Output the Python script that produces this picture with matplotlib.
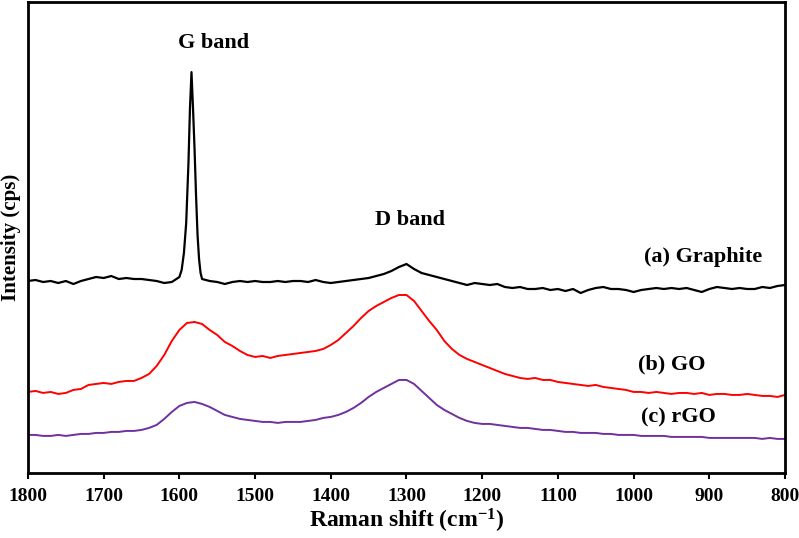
import matplotlib
matplotlib.use("Agg")
import matplotlib.pyplot as plt

# Raman shift (cm-1)
shift_graphite = [
    1800, 1790, 1780, 1770, 1760, 1750, 1740, 1730, 1720, 1710,
    1700, 1690, 1680, 1670, 1660, 1650, 1640, 1630, 1620, 1610,
    1600, 1597, 1594, 1591, 1588, 1586, 1584, 1582, 1580, 1578,
    1576, 1574, 1572, 1570,
    1560, 1550, 1540, 1530, 1520, 1510, 1500, 1490, 1480, 1470,
    1460, 1450, 1440, 1430, 1420, 1410, 1400, 1390, 1380, 1370,
    1360, 1350, 1340, 1330, 1320, 1310, 1300, 1290, 1280, 1270,
    1260, 1250, 1240, 1230, 1220, 1210, 1200, 1190, 1180, 1170,
    1160, 1150, 1140, 1130, 1120, 1110, 1100, 1090, 1080, 1070,
    1060, 1050, 1040, 1030, 1020, 1010, 1000, 990, 980, 970,
    960, 950, 940, 930, 920, 910, 900, 890, 880, 870,
    860, 850, 840, 830, 820, 810, 800,
]
int_graphite = [
    192, 193, 191, 192, 190, 192, 189, 192, 194, 196,
    195, 197, 194, 195, 194, 194, 193, 192, 190, 191,
    196, 203, 220, 250, 310, 365, 401, 365, 325, 278,
    238, 214, 200, 194,
    192, 191, 189, 191, 192, 191, 192, 191, 191, 192,
    191, 192, 192, 191, 193, 191, 190, 191, 192, 193,
    194, 195, 197, 199, 202, 206, 209, 204, 200, 198,
    196, 194, 192, 190, 188, 190, 189, 188, 189, 186,
    185, 186, 184, 184, 185, 183, 184, 182, 184, 180,
    183, 185, 186, 184, 184, 183, 181, 183, 184, 185,
    184, 185, 184, 185, 183, 181, 184, 186, 185, 184,
    185, 184, 184, 186, 185, 187, 188,
]

shift = list(range(1800, 799, -10))
int_go = [
    81, 82, 80, 81, 79, 80, 83, 84, 88, 89,
    90, 89, 91, 92, 92, 95, 99, 107, 118, 132,
    143, 150, 151, 149, 143, 138, 131, 127, 122, 118,
    116, 117, 115, 117, 118, 119, 120, 121, 122, 124,
    128, 133, 140, 147, 155, 162, 167, 171, 175, 178,
    178, 172, 162, 152, 143, 132, 124, 118, 114, 111,
    108, 105, 102, 99, 97, 95, 94, 95, 93, 93,
    91, 90, 89, 88, 87, 88, 86, 85, 84, 83,
    81, 81, 80, 81, 80, 79, 80, 80, 79, 80,
    78, 79, 79, 78, 78, 79, 78, 77, 77, 76,
    78,
]
int_rgo = [
    38, 38, 37, 37, 38, 37, 38, 39, 39, 40,
    40, 41, 41, 42, 42, 43, 45, 48, 54, 61,
    67, 70, 71, 69, 66, 62, 58, 56, 54, 53,
    52, 51, 51, 50, 51, 51, 51, 52, 53, 55,
    56, 58, 61, 65, 70, 76, 81, 85, 89, 93,
    93, 89, 82, 75, 68, 63, 59, 55, 52, 50,
    49, 49, 48, 47, 46, 45, 45, 44, 43, 43,
    42, 41, 41, 40, 40, 40, 39, 39, 38, 38,
    38, 37, 37, 37, 37, 36, 36, 36, 36, 36,
    35, 35, 35, 35, 35, 35, 35, 34, 35, 34,
    34,
]

plt.rcParams["font.family"] = "Liberation Serif"
plt.rcParams["font.weight"] = "bold"
plt.rcParams["mathtext.fontset"] = "custom"
plt.rcParams["mathtext.rm"] = "Liberation Serif:bold"
plt.rcParams["mathtext.default"] = "rm"

fig = plt.figure(figsize=(7.99, 5.38), dpi=100)
ax = fig.add_axes([0.035, 0.121, 0.9475, 0.875])

ax.plot(shift_graphite, int_graphite, color="black", linewidth=1.6)
ax.plot(shift, int_go, color="#ff0000", linewidth=1.4)
ax.plot(shift, int_rgo, color="#7030a0", linewidth=1.4)

ax.set_xlim(1800, 800)
ax.set_ylim(0, 471)
ax.set_xticks(range(1800, 799, -100))
ax.set_yticks([])

ax.tick_params(axis="x", direction="out", length=4, width=1.5,
               labelsize=14, pad=7)
for lbl in ax.get_xticklabels():
    lbl.set_fontweight("bold")
for sp in ax.spines.values():
    sp.set_linewidth(2)

ax.set_xlabel("Raman shift (cm$^{-1}$)", fontsize=17,
              fontweight="bold", labelpad=1)
ax.set_ylabel("Intensity (cps)", fontsize=15, fontweight="bold",
              labelpad=5)

ax.text(1555, 430, "G band", fontsize=16, fontweight="bold",
        ha="center", va="center")
ax.text(1295, 253, "D band", fontsize=16, fontweight="bold",
        ha="center", va="center")
ax.text(908, 216, "(a) Graphite", fontsize=16, fontweight="bold",
        ha="center", va="center")
ax.text(949, 108, "(b) GO", fontsize=16, fontweight="bold",
        ha="center", va="center")
ax.text(941, 55, "(c) rGO", fontsize=16, fontweight="bold",
        ha="center", va="center")

fig.savefig("out.png", dpi=100)
